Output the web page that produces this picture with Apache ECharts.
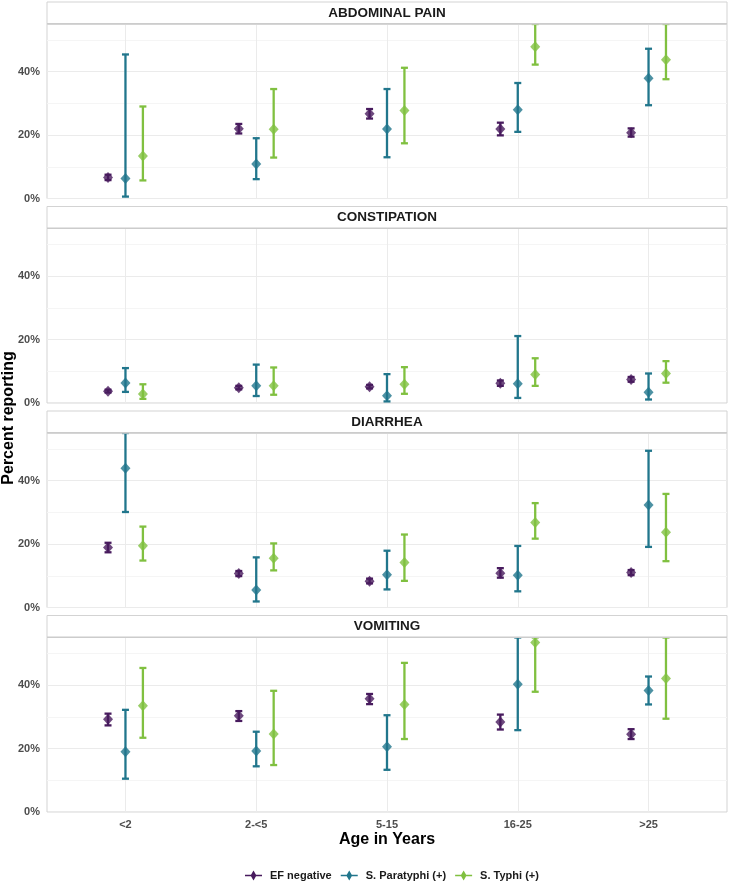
<!DOCTYPE html>
<html>
<head>
<meta charset="utf-8">
<script src="https://cdn.jsdelivr.net/npm/echarts@6/dist/echarts.min.js"></script>
<style>
html,body{margin:0;padding:0;background:#fff;}
#chart{width:729px;height:883px;}
</style>
</head>
<body>
<div id="chart"></div>
<script>
// ---- Data (percent reporting: [estimate, lower CI, upper CI]) ----
const ageGroups = ['<2', '2-<5', '5-15', '16-25', '>25'];
const symptoms = ['ABDOMINAL PAIN', 'CONSTIPATION', 'DIARRHEA', 'VOMITING'];
const groupNames = ['EF negative', 'S. Paratyphi (+)', 'S. Typhi (+)'];
const yTickValues = [0, 20, 40];

const abdominalEF    = [[6.6,5.8,7.5],[22.0,20.5,23.5],[26.7,25.2,28.2],[21.9,19.9,23.9],[20.7,19.5,22.1]];
const abdominalPara  = [[6.3,0.6,45.4],[10.9,6.1,19.0],[21.9,13.0,34.5],[28.0,21.0,36.4],[37.9,29.4,47.2]];
const abdominalTyphi = [[13.4,5.7,29.0],[21.8,12.9,34.5],[27.7,17.4,41.2],[47.8,42.2,55],[43.7,37.6,55]];

const constipationEF    = [[3.7,3.3,4.2],[4.8,4.3,5.4],[5.1,4.6,5.7],[6.2,5.4,7.1],[7.4,6.7,8.2]];
const constipationPara  = [[6.3,3.5,11.0],[5.4,2.2,12.1],[2.3,0.5,9.1],[6.1,1.6,21.1],[3.4,1.1,9.3]];
const constipationTyphi = [[2.8,1.3,5.9],[5.4,2.6,11.2],[5.9,2.9,11.3],[9.0,5.4,14.1],[9.3,6.4,13.2]];

const diarrheaEF    = [[18.9,17.4,20.4],[10.7,9.9,11.5],[8.3,7.6,9.1],[10.8,9.4,12.4],[11.0,10.2,11.8]];
const diarrheaPara  = [[43.9,30.1,55],[5.5,1.9,15.8],[10.3,5.7,17.9],[10.2,5.1,19.4],[32.3,19.1,49.4]];
const diarrheaTyphi = [[19.5,14.8,25.5],[15.5,11.7,20.2],[14.2,8.4,23.0],[26.8,21.7,32.9],[23.7,14.6,35.8]];

const vomitingEF    = [[29.2,27.3,31.0],[30.3,28.7,31.8],[35.7,34.0,37.2],[28.4,26.0,30.7],[24.5,23.0,26.1]];
const vomitingPara  = [[19.0,10.5,32.2],[19.2,14.4,25.3],[20.6,13.3,30.5],[40.3,25.8,55],[38.3,33.9,42.7]];
const vomitingTyphi = [[33.5,23.4,45.4],[24.6,14.8,38.2],[33.9,23.0,47.0],[53.4,37.9,55],[42.1,29.4,55]];

const panelData = [
  [abdominalEF, abdominalPara, abdominalTyphi],
  [constipationEF, constipationPara, constipationTyphi],
  [diarrheaEF, diarrheaPara, diarrheaTyphi],
  [vomitingEF, vomitingPara, vomitingTyphi]
];

// ---- Styling ----
const colors = ['#481b5e', '#21768c', '#80c040'];
const FONT = "'Liberation Sans', Arial, sans-serif";
const gridLeft = 47, gridWidth = 680, gridHeight = 174.5;
const gridTops = [24, 228.5, 433, 637.5];
const stripH = 22;
const dodge = [-0.4/3, 0, 0.4/3];

const chart = echarts.init(document.getElementById('chart'), null, {renderer: 'canvas'});

const grids = [], xAxes = [], yAxes = [], series = [], graphics = [];

symptoms.forEach((sym, p) => {
  const top = gridTops[p];
  grids.push({left: gridLeft, top: top, width: gridWidth, height: gridHeight,
    show: true, borderColor: '#d3d3d3', borderWidth: 1, backgroundColor: '#fff'});
  const isBottom = p === symptoms.length - 1;
  xAxes.push({
    type: 'value', gridIndex: p, min: -0.6, max: 4.6,
    axisLine: {show: false},
    axisTick: {show: false, customValues: [0,1,2,3,4]},
    axisLabel: {show: isBottom, customValues: [0,1,2,3,4], margin: 7,
      formatter: v => ageGroups[Math.round(v)] || '',
      fontSize: 11, fontWeight: 'bold', color: '#4d4d4d', fontFamily: FONT},
    splitLine: {show: true, lineStyle: {color: '#ebebeb', width: 1}},
    name: isBottom ? 'Age in Years' : '',
    nameLocation: 'middle', nameGap: 20,
    nameTextStyle: {fontSize: 16, fontWeight: 'bold', color: '#000', fontFamily: FONT}
  });
  yAxes.push({
    type: 'value', gridIndex: p, min: 0, max: 55, interval: 10,
    axisLine: {show: false}, axisTick: {show: false},
    axisLabel: {formatter: v => (yTickValues.indexOf(v) >= 0 ? v + '%' : ''),
      fontSize: 11, fontWeight: 'bold', color: '#4d4d4d', fontFamily: FONT, margin: 7},
    splitLine: {show: true, lineStyle: {color: ['#ebebeb', '#f5f5f5'], width: 1}}
  });
  // strip
  graphics.push({type: 'rect', z: 10, position: [gridLeft, top - stripH],
    shape: {x: 0, y: 0, width: gridWidth, height: stripH},
    style: {fill: '#fff', stroke: '#d3d3d3', lineWidth: 1}});
  graphics.push({type: 'rect', z: 11, position: [gridLeft, top - 1],
    shape: {x: 0, y: 0, width: gridWidth, height: 1.5},
    style: {fill: '#cccccc'}});
  graphics.push({type: 'text', z: 12, position: [gridLeft + gridWidth / 2, top - stripH / 2],
    style: {text: sym, fontSize: 13.5, fontWeight: 'bold', fill: '#1a1a1a', fontFamily: FONT,
      textAlign: 'center', textVerticalAlign: 'middle'}});

  panelData[p].forEach((arr, g) => {
    const pts = arr.map((d, i) => [i + dodge[g], d[0], d[1], d[2]]);
    series.push({
      name: groupNames[g], type: 'custom', xAxisIndex: p, yAxisIndex: p,
      itemStyle: {color: colors[g]}, z: 2, clip: false,
      data: pts,
      encode: {x: 0, y: [2, 3]},
      renderItem: (params, api) => {
        const x = api.value(0);
        const lo = api.coord([x, api.value(2)]);
        const hi = api.coord([x, api.value(3)]);
        const hw = 3.5, col = colors[g];
        const st = {stroke: col, lineWidth: 2.3};
        return {type: 'group', children: [
          {type: 'line', shape: {x1: lo[0], y1: lo[1], x2: hi[0], y2: hi[1]}, style: st},
          {type: 'line', shape: {x1: lo[0]-hw, y1: lo[1], x2: lo[0]+hw, y2: lo[1]}, style: st},
          {type: 'line', shape: {x1: hi[0]-hw, y1: hi[1], x2: hi[0]+hw, y2: hi[1]}, style: st}
        ]};
      }
    });
    series.push({
      name: groupNames[g], type: 'scatter', xAxisIndex: p, yAxisIndex: p,
      symbol: 'diamond', symbolSize: [10, 11], z: 3,
      itemStyle: {color: colors[g]},
      data: pts.map(q => [q[0], q[1]])
    });
  });
});

graphics.push({type: 'text', z: 20, rotation: Math.PI / 2, position: [9, 418],
  style: {text: 'Percent reporting', fontSize: 16, fontWeight: 'bold', fill: '#000', fontFamily: FONT,
    textAlign: 'center', textVerticalAlign: 'middle'}});

const legendIcon = 'path://M0,4.2 L6,4.2 L8.5,0 L11,4.2 L17,4.2 L17,5.8 L11,5.8 L8.5,10 L6,5.8 L0,5.8 Z';

const option = {
  animation: false,
  backgroundColor: '#fff',
  grid: grids,
  xAxis: xAxes,
  yAxis: yAxes,
  legend: {
    top: 865, left: 240, padding: 5,
    data: groupNames.map(n => ({name: n, icon: legendIcon})),
    itemWidth: 17, itemHeight: 10, itemGap: 9,
    textStyle: {fontSize: 11, fontWeight: 'bold', color: '#1a1a1a', fontFamily: FONT, padding: [0,0,0,3]}
  },
  graphic: graphics,
  series: series
};
chart.setOption(option);
</script>
</body>
</html>
